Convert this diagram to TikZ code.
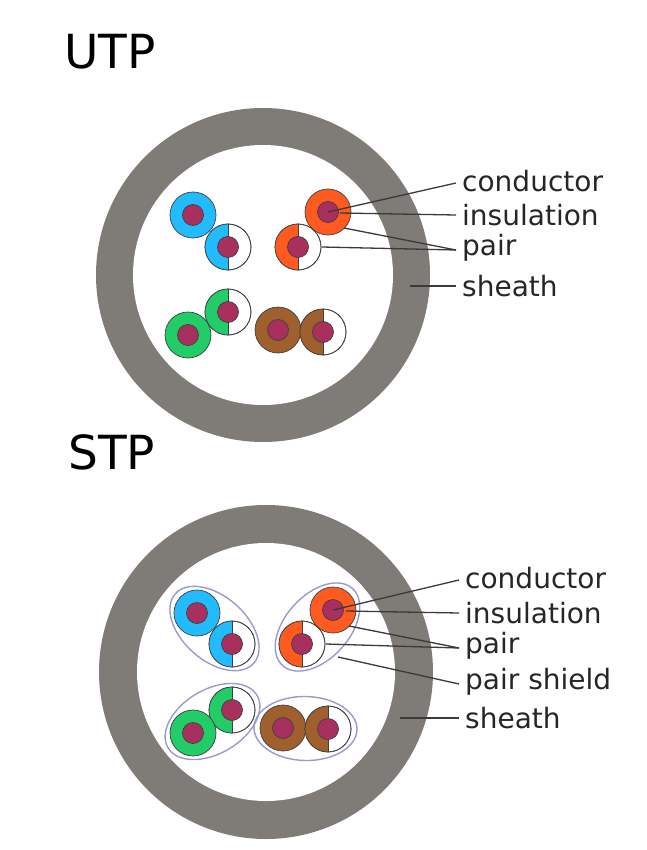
\documentclass[tikz,border=0pt]{standalone}
\usepackage{fontspec}
\setmainfont{DejaVu Sans}
\usetikzlibrary{positioning, calc, shapes.geometric}
\definecolor{sheathgray}{HTML}{7F7B76}
\definecolor{condred}{HTML}{A8305F}
\definecolor{wblue}{HTML}{22BBFF}
\definecolor{worange}{HTML}{FF5A1F}
\definecolor{wgreen}{HTML}{22CC66}
\definecolor{wbrown}{HTML}{A0602E}
\definecolor{shieldline}{HTML}{9A9AD0}
\definecolor{lead}{HTML}{3A3A3A}

\tikzset{
  wireline/.style={draw=black!75, line width=0.7pt},
  leader/.style={draw=lead, line width=1.3pt},
  shield/.style={draw=shieldline, line width=1.4pt},
  lbl/.style={font=\fontsize{28}{28}\selectfont, text=black!85, anchor=west, inner sep=0pt},
  title/.style={font=\fontsize{47}{47}\selectfont, anchor=west, inner sep=0pt}
}

% full wire: centre, colour
\newcommand{\fullwire}[2]{%
  \fill[#2, wireline] (#1) circle (23);
  \fill[condred, wireline] (#1) circle (10.5);
}
% half coloured wire: centre, colour
\newcommand{\halfwire}[2]{%
  \fill[white, wireline] (#1) circle (23);
  \fill[#2] (#1) ++(0,-23) arc (-90:-270:23) -- cycle;
  \draw[wireline] (#1) circle (23);
  \draw[wireline] (#1) ++(0,-23) -- ++(0,46);
  \fill[condred, wireline] (#1) circle (10.5);
}
% pair shield around two wire centres
\newcommand{\pairshield}[2]{%
  \path (#1) -- (#2) coordinate[pos=0.5] (sc);
  \path let \p1=($(#2)-(#1)$), \n1={atan2(\y1,\x1)}, \n2={0.5*veclen(\x1,\y1)+29} in
    node[shield, ellipse, minimum width=2*\n2, minimum height=64, rotate=\n1, inner sep=0pt] at (sc) {};
}

\begin{document}
\begin{tikzpicture}[x=1pt, y=-1pt]
    \useasboundingbox (0,0) rectangle (646,850);

    % ---------------- UTP ----------------
    \node[title] (utp) at (64,52) {UTP};
    \fill[sheathgray] (263,275) circle (167);
    \fill[white] (263,275) circle (130);

    \coordinate (ubf) at (193,215); \coordinate (ubh) at (228,247);
    \coordinate (uof) at (328,212); \coordinate (uoh) at (298,247);
    \coordinate (ugh) at (228,312); \coordinate (ugf) at (188,335);
    \coordinate (unf) at (278,330); \coordinate (unh) at (323,332);

    \fullwire{ubf}{wblue}   \halfwire{ubh}{wblue}
    \fullwire{uof}{worange} \halfwire{uoh}{worange}
    \halfwire{ugh}{wgreen}  \fullwire{ugf}{wgreen}
    \fullwire{unf}{wbrown}  \halfwire{unh}{wbrown}

    % labels
    \node[lbl] (ucond) at (462,181) {conductor};
    \node[lbl] (uins)  at (462,215) {insulation};
    \node[lbl] (upair) at (462,248) {pair};
    \node[lbl] (ush)   at (462,286) {sheath};

    \draw[leader] (uof) -- ($(ucond.west)+(-6,2)$);
    \draw[leader] ($(uof)+(12,1)$) -- ($(uins.west)+(-6,0)$);
    \draw[leader] ($(uof)+(16,16)$) -- ($(upair.west)+(-6,2)$);
    \draw[leader] ($(uoh)+(24,0)$) -- ($(upair.west)+(-6,2)$);
    \draw[leader] (410,286) -- ($(ush.west)+(-6,0)$);

    % ---------------- STP ----------------
    \node[title] (stp) at (68,452) {STP};
    \fill[sheathgray] (266,672) circle (167);
    \fill[white] (266,672) circle (129);

    \coordinate (sbf) at (197,613); \coordinate (sbh) at (232,644);
    \coordinate (sof) at (333,610); \coordinate (soh) at (302,644);
    \coordinate (sgh) at (232,710); \coordinate (sgf) at (193,733);
    \coordinate (snf) at (283,728); \coordinate (snh) at (328,729);

    \pairshield{sbf}{sbh}
    \pairshield{soh}{sof}
    \pairshield{sgf}{sgh}
    \pairshield{snf}{snh}

    \fullwire{sbf}{wblue}   \halfwire{sbh}{wblue}
    \fullwire{sof}{worange} \halfwire{soh}{worange}
    \halfwire{sgh}{wgreen}  \fullwire{sgf}{wgreen}
    \fullwire{snf}{wbrown}  \halfwire{snh}{wbrown}

    % labels
    \node[lbl] (scond) at (465,578) {conductor};
    \node[lbl] (sins)  at (465,613) {insulation};
    \node[lbl] (spair) at (465,646) {pair};
    \node[lbl] (sshl)  at (465,682) {pair shield};
    \node[lbl] (ssh)   at (465,718) {sheath};

    \draw[leader] (sof) -- ($(scond.west)+(-6,2)$);
    \draw[leader] ($(sof)+(13,1)$) -- ($(sins.west)+(-6,0)$);
    \draw[leader] ($(sof)+(16,16)$) -- ($(spair.west)+(-6,2)$);
    \draw[leader] ($(soh)+(24,0)$) -- ($(spair.west)+(-6,2)$);
    \draw[leader] (338,657) -- ($(sshl.west)+(-6,2)$);
    \draw[leader] (400,718) -- ($(ssh.west)+(-6,0)$);
\end{tikzpicture}
\end{document}
